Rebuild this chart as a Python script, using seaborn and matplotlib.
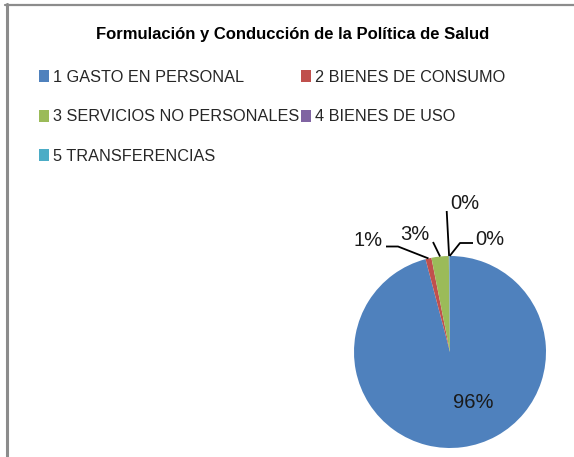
import numpy as np
import matplotlib
matplotlib.use("Agg")
import matplotlib.pyplot as plt
from matplotlib.lines import Line2D
from matplotlib.patches import Patch
import seaborn as sns

title = "Formulación y Conducción de la Política de Salud"
categories = ["1 GASTO EN PERSONAL", "2 BIENES DE CONSUMO",
              "3 SERVICIOS NO PERSONALES", "4 BIENES DE USO",
              "5 TRANSFERENCIAS"]
values = [95.9, 1.0, 2.9, 0.1, 0.1]
colors = ["#4F81BD", "#C0504D", "#9BBB59", "#8064A2", "#4BACC6"]

sns.set_theme(style="white")
plt.rcParams['font.family'] = ['Liberation Sans', 'DejaVu Sans']

W, H = 574, 457
fig = plt.figure(figsize=(W / 100, H / 100), dpi=100)
fig.patch.set_facecolor("white")

def fx(px):
    return px / W

def fy(py):
    return 1 - py / H

# pie axes: center (450,352), radius 96 px
cx, cy, r = 450, 352, 96
ax = fig.add_axes([fx(cx - r), fy(cy + r), 2 * r / W, 2 * r / H])
wedges, _ = ax.pie(values, colors=colors, startangle=90, counterclock=False,
                   radius=1.0, wedgeprops=dict(linewidth=0))
ax.set_xlim(-1, 1)
ax.set_ylim(-1, 1)
ax.set_aspect("equal")
ax.axis("off")

def d(px, py):
    return ((px - cx) / r, (cy - py) / r)

total = sum(values)
pcts = [f"{round(v / total * 100):.0f}%" for v in values]
mids = []
cum = 0
for v in values:
    a0 = 90 - cum / total * 360
    a1 = 90 - (cum + v) / total * 360
    mids.append(np.deg2rad((a0 + a1) / 2))
    cum += v

lab_pos = [(473, 403), (368, 241), (415, 235), (465, 203), (490, 239)]
leaders = [None,
           [(386, 246.5), (398, 246.5)],
           [(433, 242)],
           [(446.7, 211)],
           [(473, 243), (460, 243)]]
fs = 14.5
for i, (p, lp) in enumerate(zip(pcts, lab_pos)):
    ax.text(*d(*lp), p, ha="center", va="center", fontsize=fs,
            color="#1a1a1a", clip_on=False)
    if leaders[i] is not None:
        pts = [d(*q) for q in leaders[i]]
        edge = (np.cos(mids[i]) * 1.0, np.sin(mids[i]) * 1.0)
        pts.append(edge)
        xs, ys = zip(*pts)
        ax.plot(xs, ys, color="black", lw=1.3, clip_on=False,
                solid_capstyle="butt")

# title
fig.text(fx(293), fy(34), title, ha="center", va="center",
         fontsize=12, fontweight="bold", color="black")

# legend (row-major order in 2 columns)
handles = [Patch(facecolor=c, edgecolor="none") for c in colors]
order = [0, 2, 4, 1, 3]
leg = fig.legend([handles[i] for i in order], [categories[i] for i in order],
                 ncol=2, loc="upper left",
                 bbox_to_anchor=(fx(39), fy(70)), frameon=False,
                 fontsize=11.7, handlelength=0.6, handleheight=0.75,
                 handletextpad=0.28, columnspacing=0.1, labelspacing=1.5,
                 borderpad=0, borderaxespad=0)

# border lines (left and top)
fig.add_artist(Line2D([fx(6.5), fx(6.5)], [fy(4), fy(457)], color="#8c8c8c",
                      lw=2.2, transform=fig.transFigure))
fig.add_artist(Line2D([fx(5), fx(574)], [fy(5), fy(5)], color="#8c8c8c",
                      lw=1.6, transform=fig.transFigure))

fig.savefig("out.png", dpi=100, facecolor="white")
